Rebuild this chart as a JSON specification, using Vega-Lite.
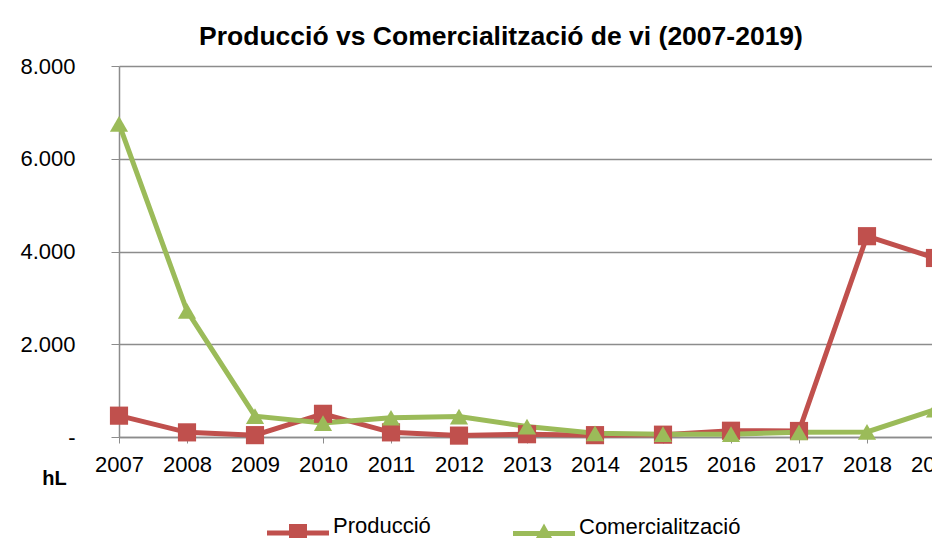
{
  "$schema": "https://vega.github.io/schema/vega-lite/v6.json",
  "width": 816,
  "height": 371,
  "padding": {"left": 19, "top": 23, "right": 0, "bottom": 0},
  "background": "white",
  "title": {
    "text": "Producció vs Comercialització de vi (2007-2019)",
    "font": "Liberation Sans",
    "fontSize": 26.5,
    "fontWeight": "bold",
    "color": "#000000",
    "anchor": "middle",
    "dx": -26,
    "offset": 5
  },
  "config": {
    "view": {"stroke": null},
    "font": "Liberation Sans"
  },
  "data": {
    "values": [
      {"any": "2007", "serie": "Producció", "hL": 460},
      {"any": "2008", "serie": "Producció", "hL": 100},
      {"any": "2009", "serie": "Producció", "hL": 40},
      {"any": "2010", "serie": "Producció", "hL": 500},
      {"any": "2011", "serie": "Producció", "hL": 100},
      {"any": "2012", "serie": "Producció", "hL": 30},
      {"any": "2013", "serie": "Producció", "hL": 60},
      {"any": "2014", "serie": "Producció", "hL": 40},
      {"any": "2015", "serie": "Producció", "hL": 50},
      {"any": "2016", "serie": "Producció", "hL": 135},
      {"any": "2017", "serie": "Producció", "hL": 130},
      {"any": "2018", "serie": "Producció", "hL": 4330},
      {"any": "2019", "serie": "Producció", "hL": 3860},
      {"any": "2007", "serie": "Comercialització", "hL": 6750},
      {"any": "2008", "serie": "Comercialització", "hL": 2720},
      {"any": "2009", "serie": "Comercialització", "hL": 450},
      {"any": "2010", "serie": "Comercialització", "hL": 300},
      {"any": "2011", "serie": "Comercialització", "hL": 415},
      {"any": "2012", "serie": "Comercialització", "hL": 440},
      {"any": "2013", "serie": "Comercialització", "hL": 225},
      {"any": "2014", "serie": "Comercialització", "hL": 80},
      {"any": "2015", "serie": "Comercialització", "hL": 60},
      {"any": "2016", "serie": "Comercialització", "hL": 60},
      {"any": "2017", "serie": "Comercialització", "hL": 100},
      {"any": "2018", "serie": "Comercialització", "hL": 110},
      {"any": "2019", "serie": "Comercialització", "hL": 590}
    ]
  },
  "encoding": {
    "x": {
      "field": "any",
      "type": "ordinal",
      "scale": {"type": "point", "padding": 0},
      "axis": {
        "title": null,
        "labelAngle": 0,
        "labelFont": "Liberation Sans",
        "labelFontSize": 22,
        "labelColor": "#000000",
        "labelPadding": 11,
        "tickSize": 6,
        "tickColor": "#8c8c8c",
        "domainColor": "#8c8c8c",
        "domainWidth": 1.5,
        "grid": false
      }
    },
    "y": {
      "field": "hL",
      "type": "quantitative",
      "scale": {"domain": [0, 8000], "nice": false},
      "axis": {
        "values": [0, 2000, 4000, 6000, 8000],
        "labelExpr": "datum.value == 0 ? '-' : replace(format(datum.value, ','), ',', '.')",
        "labelFont": "Liberation Sans",
        "labelFontSize": 22,
        "labelColor": "#000000",
        "labelPadding": 36,
        "tickSize": 8,
        "tickColor": "#8c8c8c",
        "domainColor": "#8c8c8c",
        "domainWidth": 1.5,
        "gridColor": "#8c8c8c",
        "gridWidth": 1.5,
        "title": "hL",
        "titleAngle": 0,
        "titleX": -65,
        "titleY": 412,
        "titleAlign": "center",
        "titleBaseline": "middle",
        "titleFont": "Liberation Sans",
        "titleFontSize": 20,
        "titleFontWeight": "bold",
        "titleColor": "#000000"
      }
    },
    "color": {
      "field": "serie",
      "type": "nominal",
      "scale": {"domain": ["Producció", "Comercialització"], "range": ["#C0504D", "#9BBB59"]},
      "legend": {
        "title": null,
        "orient": "none",
        "legendX": 168,
        "legendY": 449,
        "direction": "horizontal",
        "labelFont": "Liberation Sans",
        "labelFontSize": 22,
        "labelColor": "#000000",
        "labelLimit": 0,
        "symbolSize": 400,
        "labelOffset": 24,
        "columnPadding": 82,
        "encode": {
          "symbols": {
            "update": {
              "shape": {"signal": "datum.value === 'Producció' ? 'M-3.1,0.45H3.1V0.95H-3.1Z M-0.9,-0.2H0.9V1.6H-0.9Z' : 'M-3.1,0.45H3.1V0.95H-3.1Z M0,-0.3L1,1.5H-1Z'"},
              "fill": {"signal": "datum.value === 'Producció' ? '#C0504D' : '#9BBB59'"},
              "stroke": {"value": "transparent"},
              "strokeWidth": {"value": 0},
              "opacity": {"value": 1}
            }
          }
        }
      }
    }
  },
  "layer": [
    {"mark": {"type": "line", "strokeWidth": 5}},
    {
      "transform": [{"filter": "datum.serie === 'Producció'"}],
      "mark": {"type": "point", "shape": "square", "filled": true, "opacity": 1, "size": 330}
    },
    {
      "transform": [{"filter": "datum.serie === 'Comercialització'"}],
      "mark": {"type": "point", "shape": "triangle-up", "filled": true, "opacity": 1, "size": 330}
    }
  ]
}
